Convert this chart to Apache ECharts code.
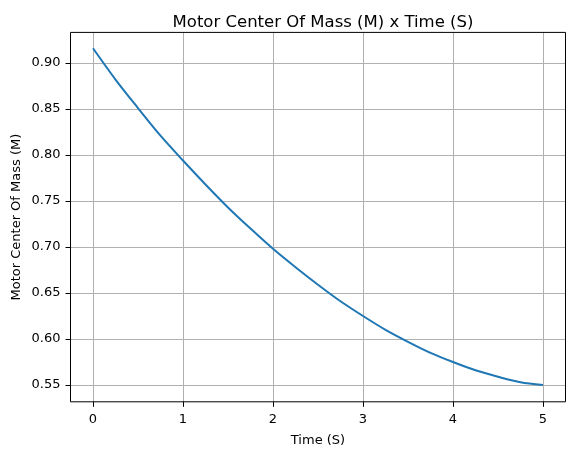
<!DOCTYPE html>
<html>
<head>
<meta charset="utf-8">
<script src="https://cdn.jsdelivr.net/npm/echarts@6/dist/echarts.min.js"></script>
<style>html,body{margin:0;padding:0;background:#fff;}#c{width:576px;height:455px;}</style>
</head>
<body>
<div id="c"></div>
<script>
const times = [0, 0.25, 0.5, 0.75, 1, 1.25, 1.5, 1.75, 2, 2.25, 2.5, 2.75, 3, 3.25, 3.5, 3.75, 4, 4.25, 4.5, 4.75, 5];
const mass = [0.916, 0.882, 0.851, 0.821, 0.794, 0.768, 0.743, 0.720, 0.698, 0.678, 0.659, 0.641, 0.625, 0.610, 0.597, 0.585, 0.575, 0.566, 0.559, 0.553, 0.550];
const titleText = 'Motor Center Of Mass (M) x Time (S)';
const xName = 'Time (S)';
const yName = 'Motor Center Of Mass (M)';

const chart = echarts.init(document.getElementById('c'));
const font = 'DejaVu Sans';
const tickStyle = {show: true, inside: false, length: 5, lineStyle: {color: '#000', width: 1}};
const gridLine = {show: true, lineStyle: {color: '#b0b0b0', width: 1}};
chart.setOption({
  animation: false,
  backgroundColor: '#fff',
  textStyle: {fontFamily: font},
  title: {
    text: titleText, left: 318, top: 9, textAlign: 'center',
    textStyle: {fontFamily: font, fontSize: 16.5, fontWeight: 'normal', color: '#000'}
  },
  grid: [
    {left: 70.5, right: 10.5, top: 32.4, bottom: 53.2, show: true, borderColor: '#000', borderWidth: 1, backgroundColor: 'transparent', z: 5},
    {left: 93, right: 33, top: 32.4, bottom: 53.2},
    {left: 70.5, right: 10.5, top: 63, bottom: 70}
  ],
  xAxis: [
    {gridIndex: 0, type: 'value', min: 0, max: 1, show: false},
    {gridIndex: 1, type: 'value', min: 0, max: 5, interval: 1,
      axisLine: {show: false, onZero: false}, axisTick: tickStyle,
      axisLabel: {margin: 11, fontSize: 13, color: '#000', fontFamily: font},
      splitLine: gridLine,
      name: xName, nameLocation: 'middle', nameGap: 32,
      nameTextStyle: {fontSize: 13, color: '#000', fontFamily: font}},
    {gridIndex: 2, type: 'value', min: 0, max: 1, show: false}
  ],
  yAxis: [
    {gridIndex: 0, type: 'value', min: 0, max: 1,
      axisLine: {show: false}, axisTick: {show: false}, axisLabel: {show: false}, splitLine: {show: false},
      name: yName, nameLocation: 'middle', nameGap: 47,
      nameTextStyle: {fontSize: 13, color: '#000', fontFamily: font}},
    {gridIndex: 1, type: 'value', min: 0.53175, max: 0.93325, show: false},
    {gridIndex: 2, type: 'value', min: 0.55, max: 0.90, interval: 0.05,
      axisLine: {show: false, onZero: false}, axisTick: tickStyle,
      axisLabel: {margin: 10, fontSize: 13, color: '#000', fontFamily: font, formatter: v => v.toFixed(2)},
      splitLine: gridLine}
  ],
  series: [{
    type: 'line', xAxisIndex: 1, yAxisIndex: 1,
    data: times.map((t, i) => [t, mass[i]]),
    showSymbol: false, smooth: 0.3, z: 10,
    lineStyle: {color: '#1f77b4', width: 2}
  }]
});
</script>
</body>
</html>
